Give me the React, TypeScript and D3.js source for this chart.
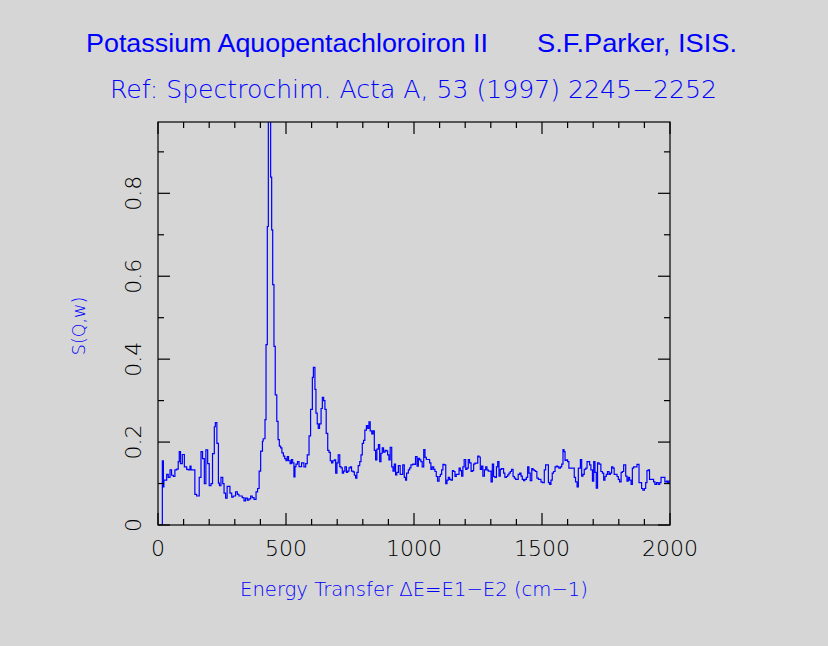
import React from "react";
import * as d3 from "d3";

// Energy transfer (cm-1), bin starts
const energy: number[] = [
  0, 17, 21, 23, 34, 40, 47, 53, 60, 66,
  73, 79, 83, 88, 95, 103, 112, 118, 125, 129,
  144, 151, 161, 168, 174, 181, 187, 194, 200, 207,
  213, 220, 224, 230, 236, 240, 246, 253, 258, 264,
  270, 281, 288, 294, 303, 310, 316, 329, 336, 342,
  349, 355, 362, 368, 375, 383, 389, 395, 401, 408,
  411, 418, 422, 427, 431, 440, 444, 448, 453, 458,
  464, 469, 474, 479, 484, 490, 495, 500, 505, 510,
  516, 521, 526, 531, 535, 539, 545, 551, 561, 570,
  577, 583, 590, 596, 603, 607, 613, 617, 622, 626,
  631, 637, 642, 647, 652, 657, 663, 668, 673, 678,
  683, 689, 694, 699, 704, 710, 715, 720, 725, 730,
  736, 741, 746, 751, 756, 762, 767, 772, 777, 782,
  788, 793, 798, 803, 808, 814, 819, 824, 829, 835,
  840, 845, 850, 855, 861, 866, 871, 876, 881, 887,
  892, 897, 902, 907, 913, 918, 923, 928, 933, 939,
  946, 956, 962, 967, 971, 978, 983, 988, 995, 1001,
  1006, 1012, 1017, 1022, 1027, 1032, 1038, 1043, 1048, 1061,
  1066, 1071, 1077, 1082, 1087, 1092, 1098, 1103, 1108, 1113,
  1118, 1124, 1129, 1134, 1139, 1144, 1150, 1155, 1160, 1165,
  1176, 1181, 1186, 1191, 1196, 1202, 1207, 1212, 1217, 1223,
  1228, 1233, 1238, 1249, 1254, 1259, 1264, 1269, 1275, 1280,
  1285, 1290, 1301, 1306, 1311, 1316, 1322, 1327, 1332, 1337,
  1342, 1350, 1355, 1361, 1366, 1371, 1376, 1381, 1387, 1392,
  1397, 1407, 1413, 1418, 1423, 1428, 1433, 1439, 1444, 1449,
  1454, 1460, 1465, 1470, 1475, 1480, 1486, 1496, 1501, 1509,
  1514, 1525, 1530, 1535, 1540, 1545, 1551, 1556, 1561, 1566,
  1572, 1577, 1582, 1586, 1590, 1595, 1600, 1605, 1626, 1631,
  1637, 1642, 1650, 1655, 1660, 1665, 1671, 1676, 1686, 1691,
  1697, 1702, 1707, 1712, 1717, 1723, 1730, 1736, 1741, 1746,
  1751, 1756, 1762, 1767, 1772, 1777, 1782, 1793, 1798, 1803,
  1809, 1814, 1819, 1827, 1832, 1837, 1842, 1848, 1853, 1858,
  1871, 1879, 1889, 1894, 1900, 1905, 1910, 1915, 1920, 1936,
  1941, 1947, 1954, 1960, 1965, 1980, 1986, 1991, 1996, 2000,
];

// S(Q,w) for each bin
const sqw: number[] = [
  0, 0.155, 0.092, 0.108, 0.122, 0.115, 0.133, 0.12, 0.117, 0.133,
  0.135, 0.153, 0.177, 0.148, 0.17, 0.14, 0.134, 0.133, 0.142, 0.133,
  0.074, 0.07, 0.115, 0.177, 0.16, 0.1, 0.181, 0.148, 0.095, 0.1,
  0.172, 0.237, 0.247, 0.197, 0.101, 0.095, 0.115, 0.1, 0.077, 0.065,
  0.093, 0.077, 0.067, 0.07, 0.08, 0.074, 0.07, 0.066, 0.058, 0.065,
  0.06, 0.063, 0.07, 0.066, 0.062, 0.08, 0.088, 0.13, 0.178, 0.202,
  0.208, 0.254, 0.435, 0.72, 1.2, 0.839, 0.712, 0.58, 0.431, 0.314,
  0.25, 0.206, 0.19, 0.186, 0.174, 0.166, 0.16, 0.155, 0.165, 0.155,
  0.148, 0.158, 0.15, 0.116, 0.141, 0.147, 0.153, 0.141, 0.15, 0.14,
  0.148, 0.169, 0.215, 0.279, 0.356, 0.38, 0.327, 0.27, 0.244, 0.233,
  0.244, 0.281, 0.308, 0.3, 0.279, 0.221, 0.18, 0.175, 0.155, 0.15,
  0.155, 0.157, 0.125, 0.15, 0.169, 0.141, 0.138, 0.125, 0.13, 0.14,
  0.127, 0.13, 0.138, 0.14, 0.13, 0.128, 0.12, 0.113, 0.127, 0.143,
  0.153, 0.169, 0.197, 0.204, 0.229, 0.24, 0.233, 0.249, 0.227, 0.22,
  0.227, 0.18, 0.157, 0.183, 0.194, 0.153, 0.173, 0.186, 0.176, 0.18,
  0.179, 0.169, 0.157, 0.187, 0.14, 0.13, 0.147, 0.121, 0.127, 0.143,
  0.122, 0.145, 0.115, 0.108, 0.125, 0.133, 0.138, 0.145, 0.147, 0.146,
  0.165, 0.142, 0.161, 0.157, 0.153, 0.14, 0.182, 0.163, 0.158, 0.15,
  0.134, 0.14, 0.134, 0.129, 0.117, 0.106, 0.117, 0.122, 0.133, 0.146,
  0.145, 0.1, 0.108, 0.115, 0.11, 0.108, 0.131, 0.129, 0.117, 0.122,
  0.137, 0.131, 0.118, 0.14, 0.158, 0.134, 0.137, 0.158, 0.15, 0.129,
  0.131, 0.147, 0.149, 0.166, 0.164, 0.134, 0.142, 0.118, 0.133, 0.14,
  0.133, 0.13, 0.104, 0.147, 0.117, 0.115, 0.14, 0.153, 0.118, 0.134,
  0.136, 0.125, 0.115, 0.117, 0.121, 0.125, 0.129, 0.134, 0.117, 0.113,
  0.11, 0.122, 0.125, 0.118, 0.11, 0.107, 0.11, 0.115, 0.14, 0.125,
  0.107, 0.136, 0.133, 0.131, 0.129, 0.113, 0.11, 0.104, 0.102, 0.133,
  0.145, 0.102, 0.098, 0.108, 0.125, 0.129, 0.14, 0.142, 0.14, 0.137,
  0.14, 0.147, 0.182, 0.177, 0.156, 0.157, 0.153, 0.137, 0.115, 0.104,
  0.092, 0.137, 0.158, 0.118, 0.122, 0.134, 0.137, 0.153, 0.145, 0.133,
  0.106, 0.153, 0.127, 0.089, 0.15, 0.147, 0.129, 0.125, 0.108, 0.117,
  0.122, 0.129, 0.122, 0.125, 0.14, 0.137, 0.122, 0.117, 0.11, 0.104,
  0.127, 0.129, 0.145, 0.118, 0.106, 0.115, 0.108, 0.098, 0.137, 0.14,
  0.146, 0.102, 0.088, 0.084, 0.088, 0.102, 0.131, 0.133, 0.11, 0.104,
  0.098, 0.102, 0.098, 0.102, 0.115, 0.104, 0.106, 0.102, 0.106, 0.106,
];

const xDomain: [number, number] = [0, 2000];
const yDomain: [number, number] = [0, 0.972];
const xMajorTicks = [0, 500, 1000, 1500, 2000];
const xMinorStep = 100;
const yMajorTicks = [0, 0.2, 0.4, 0.6, 0.8];
const yTickLabels = ["0", "0.2", "0.4", "0.6", "0.8"];
const yMinorStep = 0.1;

const titleLeft = "Potassium Aquopentachloroiron II";
const titleRight = "S.F.Parker, ISIS.";
const subtitle = "Ref: Spectrochim. Acta A, 53 (1997) 2245\u22122252";
const xLabel = "Energy Transfer \u0394E=E1\u2212E2 (cm\u22121)";
const yLabel = "S(Q,w)";

const W = 828;
const H = 646;
const plot = { left: 158, right: 670, top: 122, bottom: 525 };
const BLUE = "#0000ff";
const BG = "#d6d6d6";
const THIN = "'DejaVu Sans ExtraLight', 'DejaVu Sans', sans-serif";

export default function App() {
  const x = d3.scaleLinear().domain(xDomain).range([plot.left, plot.right]);
  const y = d3.scaleLinear().domain(yDomain).range([plot.bottom, plot.top]);

  const pts: [number, number][] = energy.map((e, i) => [e, sqw[i]]);
  const line = d3
    .line<[number, number]>()
    .x((d) => x(d[0]))
    .y((d) => y(d[1]))
    .curve(d3.curveStepAfter);

  const xMinor = d3.range(xDomain[0], xDomain[1] + 1, xMinorStep);
  const yMinor = d3.range(0, yDomain[1], yMinorStep);
  const major = 12;
  const minor = 6;

  return (
    <svg
      width={W}
      height={H}
      style={{ position: "absolute", left: 0, top: 0, display: "block" }}
    >
      <rect x={0} y={0} width={W} height={H} fill={BG} />
      <defs>
        <clipPath id="plotclip">
          <rect
            x={plot.left}
            y={plot.top}
            width={plot.right - plot.left}
            height={plot.bottom - plot.top}
          />
        </clipPath>
      </defs>

      {/* titles */}
      <text
        x={86}
        y={52}
        fill={BLUE}
        fontFamily="'Liberation Sans', Arial, sans-serif"
        fontSize={25}
        textLength={402}
        lengthAdjust="spacingAndGlyphs"
      >
        {titleLeft}
      </text>
      <text
        x={537}
        y={52}
        fill={BLUE}
        fontFamily="'Liberation Sans', Arial, sans-serif"
        fontSize={25}
        textLength={200}
        lengthAdjust="spacingAndGlyphs"
      >
        {titleRight}
      </text>
      <text
        x={110}
        y={98}
        fill={BLUE}
        fontFamily={THIN}
        fontWeight={200}
        fontSize={24}
        textLength={607}
        lengthAdjust="spacingAndGlyphs"
      >
        {subtitle}
      </text>

      {/* data */}
      <g clipPath="url(#plotclip)">
        <path d={line(pts) || ""} fill="none" stroke={BLUE} strokeWidth={1.2} />
      </g>

      {/* frame */}
      <rect
        x={plot.left}
        y={plot.top}
        width={plot.right - plot.left}
        height={plot.bottom - plot.top}
        fill="none"
        stroke="#000"
        strokeWidth={1.2}
      />

      {/* x ticks */}
      {xMinor.map((v) => {
        const len = xMajorTicks.includes(v) ? major : minor;
        return (
          <g key={"xt" + v}>
            <line x1={x(v)} x2={x(v)} y1={plot.bottom} y2={plot.bottom - len} stroke="#000" strokeWidth={1.2} />
            <line x1={x(v)} x2={x(v)} y1={plot.top} y2={plot.top + len} stroke="#000" strokeWidth={1.2} />
          </g>
        );
      })}
      {/* y ticks */}
      {yMinor.map((v, i) => {
        const isMajor = i % 2 === 0;
        const len = isMajor ? major : minor;
        return (
          <g key={"yt" + i}>
            <line x1={plot.left} x2={plot.left + len} y1={y(v)} y2={y(v)} stroke="#000" strokeWidth={1.2} />
            <line x1={plot.right} x2={plot.right - len} y1={y(v)} y2={y(v)} stroke="#000" strokeWidth={1.2} />
          </g>
        );
      })}

      {/* x tick labels */}
      {xMajorTicks.map((v) => (
        <text
          key={"xl" + v}
          x={x(v)}
          y={556}
          textAnchor="middle"
          fontFamily={THIN}
          fontWeight={200}
          fontSize={22}
          fill="#000"
        >
          {String(v)}
        </text>
      ))}
      {/* y tick labels */}
      {yMajorTicks.map((v, i) => (
        <text
          key={"yl" + v}
          transform={`translate(141,${y(v)}) rotate(-90)`}
          textAnchor="middle"
          fontFamily={THIN}
          fontWeight={200}
          fontSize={22}
          fill="#000"
        >
          {yTickLabels[i]}
        </text>
      ))}

      {/* axis labels */}
      <text
        x={240}
        y={596}
        fill={BLUE}
        fontFamily={THIN}
        fontWeight={200}
        fontSize={19.5}
        textLength={348}
        lengthAdjust="spacingAndGlyphs"
      >
        {xLabel}
      </text>
      <text
        transform="translate(85,326) rotate(-90)"
        textAnchor="middle"
        fill={BLUE}
        fontFamily={THIN}
        fontWeight={200}
        fontSize={17.5}
      >
        {yLabel}
      </text>
    </svg>
  );
}
